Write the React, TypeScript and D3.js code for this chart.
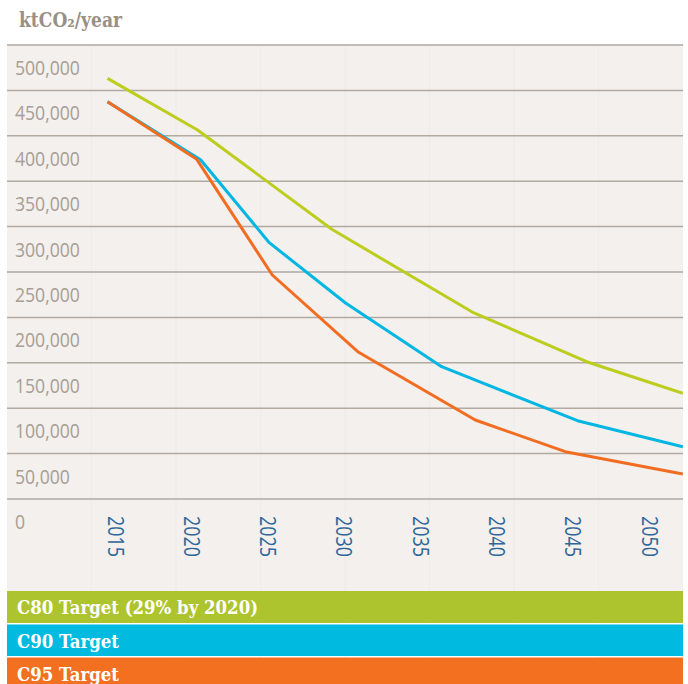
import React from 'react';
import * as d3 from 'd3';

// valori (ktCO2/anno)
const c80Years = [2015, 2020.9, 2029.7, 2038.9, 2046.4, 2052.7];
const c80Values = [463300, 406400, 297000, 205900, 151200, 116400];

const c90Years = [2015, 2021.1, 2025.6, 2030.6, 2036.9, 2045.8, 2052.7];
const c90Values = [437500, 373600, 282300, 215900, 145700, 86200, 57600];

const c95Years = [2015, 2020.85, 2025.8, 2031.4, 2039.1, 2045.0, 2052.7];
const c95Values = [437500, 374100, 246700, 162200, 87000, 52100, 27500];

const yearTicks = [2015, 2020, 2025, 2030, 2035, 2040, 2045, 2050];
const valueTicks = [0, 50000, 100000, 150000, 200000, 250000, 300000, 350000, 400000, 450000, 500000];

const seriesNames = ['C80 Target (29% by 2020)', 'C90 Target', 'C95 Target'];
const lineColors = ['#bccd1e', '#00b6e2', '#f26d21'];
const legendColors = ['#aec42f', '#00badf', '#f37021'];

const W = 688;
const H = 684;
const left = 7;
const right = 683;

const App: React.FC = () => {
  const x = d3.scaleLinear().domain([2015, 2050]).range([107.5, 641.6]);
  const y = d3.scaleLinear().domain([0, 500000]).range([499, 45]);

  const series = [
    { years: c80Years, values: c80Values },
    { years: c90Years, values: c90Values },
    { years: c95Years, values: c95Values },
  ];

  const line = d3
    .line<[number, number]>()
    .x(d => x(d[0]))
    .y(d => y(d[1]));

  const fmt = d3.format(',');
  const colLines = d3.range(1, 8).map(i => left + ((right - left) / 8) * i);

  return (
    <svg width={W} height={H} style={{ position: 'absolute', left: 0, top: 0 }}>
      <defs>
        <clipPath id="plot">
          <rect x={left} y={40} width={right - left} height={520} />
        </clipPath>
      </defs>
      <rect x={0} y={0} width={W} height={H} fill="#ffffff" />

      {/* titolo */}
      <text
        x={19}
        y={27}
        fill="#9a8f85"
        fontFamily="'DejaVu Serif', serif"
        fontWeight="bold"
        fontSize={20}
        textLength={103}
        lengthAdjust="spacingAndGlyphs"
      >
        ktCO₂/year
      </text>

      {/* sfondo */}
      <rect x={left} y={45} width={right - left} height={546} fill="#f3f0ed" />
      {colLines.map(cx => (
        <line key={cx} x1={cx} x2={cx} y1={45} y2={H} stroke="#e6e0da" strokeWidth={0.8} opacity={0.35} />
      ))}

      {/* griglia + etichette asse Y */}
      {valueTicks.map(v => (
        <g key={v}>
          <line x1={left} x2={right} y1={y(v)} y2={y(v)} stroke="#b2a9a0" strokeWidth={1.5} />
          <text
            transform={`translate(15,${y(v) + 30}) scale(0.88,1)`}
            fill="#a79e94"
            fontFamily="'Open Sans', sans-serif"
            fontSize={20}
          >
            {fmt(v)}
          </text>
        </g>
      ))}

      {/* etichette anni */}
      {yearTicks.map(t => (
        <text
          key={t}
          transform={`translate(${x(t)},516) rotate(90)`}
          fill="#2f6699"
          fontFamily="'Open Sans', sans-serif"
          fontSize={22}
          textLength={41}
          lengthAdjust="spacingAndGlyphs"
        >
          {t}
        </text>
      ))}

      {/* linee */}
      <g clipPath="url(#plot)">
        {series.map((s, i) => (
          <path
            key={i}
            d={line(s.years.map((yr, j) => [yr, s.values[j]] as [number, number])) ?? ''}
            fill="none"
            stroke={lineColors[i]}
            strokeWidth={3}
            strokeLinejoin="round"
          />
        ))}
      </g>

      {/* legenda */}
      {seriesNames.map((name, i) => {
        const tops = [591, 624.5, 657.5];
        const hs = [32, 31.5, 30];
        return (
          <g key={name}>
            <rect x={left} y={tops[i]} width={right - left} height={hs[i]} fill={legendColors[i]} />
            <text
              x={17}
              y={tops[i] + 23}
              fill="#ffffff"
              fontFamily="'DejaVu Serif', serif"
              fontWeight="bold"
              fontSize={18}
              textLength={i === 0 ? 241 : 102}
              lengthAdjust="spacingAndGlyphs"
            >
              {name}
            </text>
          </g>
        );
      })}
    </svg>
  );
};

export default App;
